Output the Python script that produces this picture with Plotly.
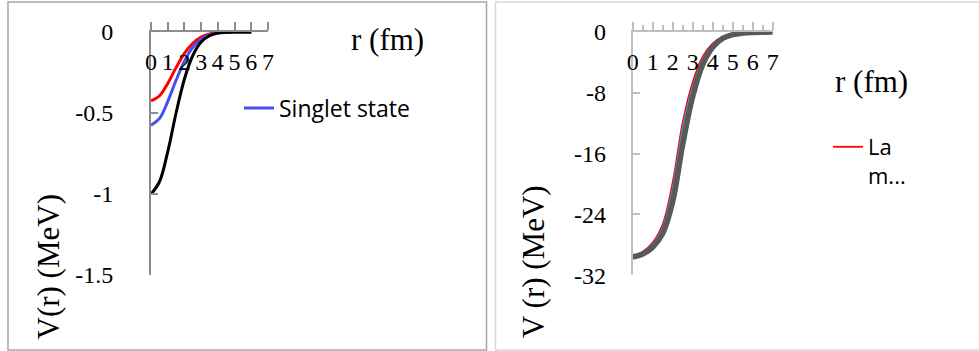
import plotly.graph_objects as go

W, H = 979, 351

# ---------------- data ----------------
r_left = [0, 0.5, 1.0, 1.5, 2.0, 2.5, 3.0, 3.5, 4.0, 4.5, 5.0, 5.5, 6.0]
v_singlet = [-0.575, -0.535, -0.43, -0.298, -0.18, -0.095, -0.044, -0.017, -0.005, -0.001, 0, 0, 0]
v_triplet = [-0.425, -0.395, -0.318, -0.22, -0.132, -0.07, -0.032, -0.012, -0.004, -0.001, 0, 0, 0]
v_total = [-1.0, -0.926, -0.74, -0.50, -0.29, -0.145, -0.062, -0.023, -0.007, -0.002, 0, 0, 0]

r_right = [0, 0.5, 1.0, 1.5, 2.0, 2.5, 3.0, 3.5, 4.0, 4.5, 5.0, 5.5, 6.0, 6.5, 7.0]
v_red = [-29.45, -28.9, -27.7, -25.3, -19.8, -11.9, -6.6, -3.25, -1.5, -0.63, -0.26, -0.1, -0.04, -0.015, -0.005]
v_cyan = [-29.5, -29.0, -27.9, -25.7, -20.6, -12.7, -7.2, -3.6, -1.65, -0.7, -0.29, -0.12, -0.043, -0.016, -0.006]
v_gray = [-29.6, -29.2, -28.3, -26.5, -22.3, -14.8, -8.5, -4.3, -2.0, -0.85, -0.35, -0.14, -0.05, -0.02, -0.01]

left_yticks = [0, -0.5, -1, -1.5]
left_yticklabels = ["0", "-0.5", "-1", "-1.5"]
right_yticks = [0, -8, -16, -24, -32]
right_yticklabels = ["0", "-8", "-16", "-24", "-32"]
xticks = [0, 1, 2, 3, 4, 5, 6, 7]

# ---------------- helpers ----------------
def px(x):
    return x / W

def py(y):
    return 1 - y / H

SERIF = "Liberation Serif"
SANS = "Open Sans"

fig = go.Figure()

fig.add_trace(go.Scatter(x=r_left, y=v_triplet, name="Triplet state", mode="lines",
                         line=dict(color="#ff0000", width=3, shape="spline"),
                         xaxis="x", yaxis="y", showlegend=False))
fig.add_trace(go.Scatter(x=r_left, y=v_singlet, name="Singlet state", mode="lines",
                         line=dict(color="#4350ef", width=3, shape="spline"),
                         xaxis="x", yaxis="y", legend="legend"))
fig.add_trace(go.Scatter(x=r_left, y=v_total, name="Total", mode="lines",
                         line=dict(color="#000000", width=3, shape="spline"),
                         xaxis="x", yaxis="y", showlegend=False))

fig.add_trace(go.Scatter(x=r_right, y=v_red, name="La<br>m...", mode="lines",
                         line=dict(color="#ff0000", width=1.8, shape="spline"),
                         xaxis="x2", yaxis="y2", legend="legend2"))
fig.add_trace(go.Scatter(x=r_right, y=v_cyan, name="Series 2", mode="lines",
                         line=dict(color="#1fa7e0", width=1.8, shape="spline"),
                         xaxis="x2", yaxis="y2", showlegend=False))
fig.add_trace(go.Scatter(x=r_right, y=v_gray, name="Series 3", mode="lines",
                         line=dict(color="#595959", width=5.5, shape="spline"),
                         xaxis="x2", yaxis="y2", showlegend=False))

tickfont = dict(family=SERIF, size=24, color="#000")

common_x = dict(range=[0, 7], side="top", showline=True, linewidth=2,
                ticks="outside", ticklen=8, tickwidth=1.5, tickvals=xticks,
                ticklabelposition="inside", ticklabelstandoff=23,
                ticklabeloverflow="allow", automargin=False,
                showgrid=False, zeroline=False, tickfont=tickfont, fixedrange=True)

common_y = dict(showline=True, linewidth=2, ticks="inside", ticklen=7, tickwidth=1.5,
                ticklabeloverflow="allow", automargin=False,
                showgrid=False, zeroline=False, tickfont=tickfont, fixedrange=True)

title_font = dict(family=SERIF, size=31, color="#000")

fig.update_layout(
    width=W, height=H,
    margin=dict(l=0, r=0, t=0, b=0, autoexpand=False),
    paper_bgcolor="white", plot_bgcolor="rgba(0,0,0,0)",
    xaxis=dict(domain=[px(151), px(268)], anchor="y", linecolor="#8c8c8c",
               tickcolor="#8c8c8c", **common_x),
    yaxis=dict(domain=[py(275), py(32)], anchor="x", range=[-1.5, 0],
               tickvals=left_yticks, ticktext=left_yticklabels,
               linecolor="#8c8c8c", tickcolor="#8c8c8c", ticklabelstandoff=31,
               **common_y),
    xaxis2=dict(domain=[px(632.7), px(772.7)], anchor="y2", linecolor="#bfbfbf",
                tickcolor="#bfbfbf",
                minor=dict(dtick=0.5, tick0=0, ticks="outside", ticklen=5,
                           tickwidth=1.5, tickcolor="#bfbfbf", showgrid=False),
                **common_x),
    yaxis2=dict(domain=[py(275.3), py(32)], anchor="x2", range=[-32, 0],
                tickvals=right_yticks, ticktext=right_yticklabels,
                linecolor="#bfbfbf", tickcolor="#bfbfbf", ticklabelstandoff=20,
                **common_y),
    legend=dict(x=px(239), y=py(108), xanchor="left", yanchor="middle",
                bgcolor="rgba(0,0,0,0)", font=dict(family=SANS, size=23, color="#000")),
    legend2=dict(x=px(828), y=py(126), xanchor="left", yanchor="top", valign="top",
                 bgcolor="rgba(0,0,0,0)", font=dict(family=SANS, size=22, color="#000")),
    shapes=[
        dict(type="rect", xref="paper", yref="paper",
             x0=px(8), x1=px(486.5), y0=py(350), y1=py(2),
             line=dict(color="#a6a6a6", width=1.5), layer="below"),
        dict(type="rect", xref="paper", yref="paper",
             x0=px(495.5), x1=px(990), y0=py(350), y1=py(2),
             line=dict(color="#d9d9d9", width=1.5), layer="below"),
    ],
    annotations=[
        dict(text="r (fm)", x=px(387), y=py(39), xref="paper", yref="paper",
             xanchor="center", yanchor="middle", showarrow=False, font=title_font),
        dict(text="r (fm)", x=px(871), y=py(81), xref="paper", yref="paper",
             xanchor="center", yanchor="middle", showarrow=False, font=title_font),
        dict(text="V(r) (MeV)", x=px(47.5), y=py(267), xref="paper", yref="paper",
             xanchor="center", yanchor="middle",
             textangle=-90, showarrow=False, font=title_font),
        dict(text="V (r) (MeV)", x=px(533), y=py(262), xref="paper", yref="paper",
             xanchor="center", yanchor="middle",
             textangle=-90, showarrow=False, font=title_font),
    ],
)

fig.write_html("out.html", config={"displayModeBar": False},
               post_script="document.body.style.margin='0';")
